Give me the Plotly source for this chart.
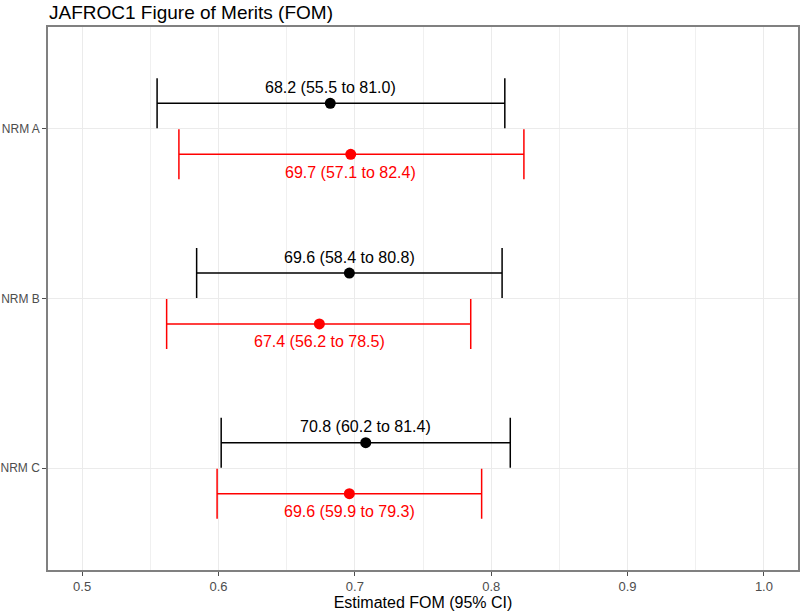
import plotly.graph_objects as go

# ---- data ----
categories = ["NRM A", "NRM B", "NRM C"]
group1_fom = [0.682, 0.696, 0.708]
group1_lo = [0.555, 0.584, 0.602]
group1_hi = [0.810, 0.808, 0.814]
group2_fom = [0.697, 0.674, 0.696]
group2_lo = [0.571, 0.562, 0.599]
group2_hi = [0.824, 0.785, 0.793]
x_ticks = [0.5, 0.6, 0.7, 0.8, 0.9, 1.0]

FONT = "Liberation Sans, Arial, Helvetica, sans-serif"
dodge = 0.15

fig = go.Figure()
annotations = []

series = [
    (group1_fom, group1_lo, group1_hi, "black", -dodge, 16),
    (group2_fom, group2_lo, group2_hi, "#FF0000", dodge, -18),
]
for fom, lo, hi, color, off, shift in series:
    ys = [i + off for i in range(len(categories))]
    fig.add_trace(go.Scatter(
        x=fom, y=ys, mode="markers",
        marker=dict(color=color, size=11),
        error_x=dict(type="data", symmetric=False,
                     array=[h - f for h, f in zip(hi, fom)],
                     arrayminus=[f - l for f, l in zip(fom, lo)],
                     color=color, thickness=1.5, width=25),
        showlegend=False, hoverinfo="skip"))
    for f, l, h, y in zip(fom, lo, hi, ys):
        annotations.append(dict(
            x=f, y=y, xref="x", yref="y", showarrow=False,
            text=f"{f*100:.1f} ({l*100:.1f} to {h*100:.1f})",
            font=dict(family=FONT, size=16, color=color),
            yshift=shift, xanchor="center", yanchor="middle"))

# title
annotations.append(dict(
    x=0, y=1, xref="paper", yref="paper", xanchor="left", yanchor="bottom",
    yshift=2, xshift=-1, showarrow=False, text="JAFROC1 Figure of Merits (FOM)",
    font=dict(family=FONT, size=19, color="black")))

fig.update_layout(
    width=800, height=611,
    margin=dict(l=48, r=2, t=27, b=41, autoexpand=False),
    paper_bgcolor="white", plot_bgcolor="white",
    font=dict(family=FONT),
    annotations=annotations,
    xaxis=dict(
        range=[0.475, 1.025], tickvals=x_ticks,
        ticktext=[f"{v:.1f}" for v in x_ticks],
        automargin=False,
        showgrid=True, gridcolor="#EBEBEB", gridwidth=1,
        minor=dict(dtick=0.05, tick0=0.5, showgrid=True, gridcolor="#F0F0F0", gridwidth=0.7, ticks=""),
        ticks="outside", ticklen=4, tickcolor="#4D4D4D", tickwidth=1,
        tickfont=dict(family=FONT, size=13, color="#4D4D4D"),
        showline=True, linecolor="#808080", linewidth=1.5, mirror=True,
        zeroline=False,
        title=dict(text="Estimated FOM (95% CI)", font=dict(family=FONT, size=16, color="black"), standoff=4),
    ),
    yaxis=dict(
        range=[2.6, -0.6], tickvals=list(range(len(categories))), ticktext=categories,
        automargin=False,
        showgrid=True, gridcolor="#EBEBEB", gridwidth=1,
        ticks="outside", ticklen=4, tickcolor="#4D4D4D", tickwidth=1,
        tickfont=dict(family=FONT, size=12, color="#4D4D4D"),
        showline=True, linecolor="#808080", linewidth=1.5, mirror=True,
        zeroline=False,
    ),
)

fig.write_html(
    "out.html",
    config={"displayModeBar": False},
    post_script="document.body.style.margin='0';document.body.style.padding='0';document.body.style.overflow='hidden';",
)
